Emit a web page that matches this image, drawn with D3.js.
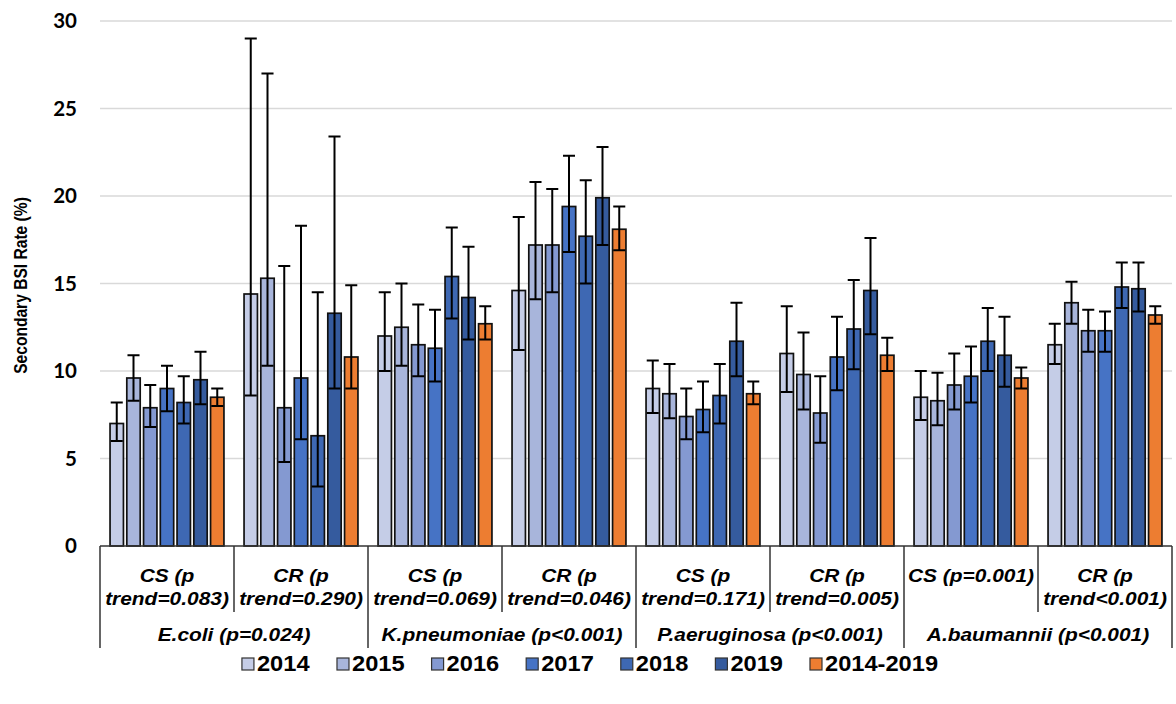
<!DOCTYPE html>
<html>
<head>
<meta charset="utf-8">
<script src="https://cdn.jsdelivr.net/npm/d3@7/dist/d3.min.js"></script>
<style>
  html, body { margin: 0; padding: 0; background: #fff; }
  svg { display: block; }
</style>
</head>
<body>
<svg id="chart" width="1176" height="704"></svg>
<script>
// Organisms and resistance subgroups along the category axis
const organisms = ["E.coli (p=0.024)", "K.pneumoniae (p<0.001)", "P.aeruginosa (p<0.001)", "A.baumannii (p<0.001)"];
const subgroupLines = [
  ["CS (p", "trend=0.083)"], ["CR (p", "trend=0.290)"],
  ["CS (p", "trend=0.069)"], ["CR (p", "trend=0.046)"],
  ["CS (p", "trend=0.171)"], ["CR (p", "trend=0.005)"],
  ["CS (p=0.001)"],          ["CR (p", "trend<0.001)"]
];
const subgroupIds = ["ec-cs", "ec-cr", "kp-cs", "kp-cr", "pa-cs", "pa-cr", "ab-cs", "ab-cr"];

// Series (years) and their colours
const years = ["2014", "2015", "2016", "2017", "2018", "2019", "2014-2019"];
const colors = ["#c5cde7", "#a8b5db", "#8499d1", "#4673c5", "#3e68b3", "#355b9e", "#ed7d31"];

// Secondary BSI rate (%) per subgroup, one array per series
const rate2014 = [7.0, 14.4, 12.0, 14.6, 9.0, 11.0, 8.5, 11.5];
const rate2015 = [9.6, 15.3, 12.5, 17.2, 8.7, 9.8, 8.3, 13.9];
const rate2016 = [7.9, 7.9, 11.5, 17.2, 7.4, 7.6, 9.2, 12.3];
const rate2017 = [9.0, 9.6, 11.3, 19.4, 7.8, 10.8, 9.7, 12.3];
const rate2018 = [8.2, 6.3, 15.4, 17.7, 8.6, 12.4, 11.7, 14.8];
const rate2019 = [9.5, 13.3, 14.2, 19.9, 11.7, 14.6, 10.9, 14.7];
const rateAll  = [8.5, 10.8, 12.7, 18.1, 8.7, 10.9, 9.6, 13.2];

// 95% CI lower bounds
const low2014 = [6.0, 8.6, 10.0, 11.2, 7.6, 8.8, 7.2, 10.4];
const low2015 = [8.3, 10.3, 10.3, 14.1, 7.3, 7.8, 6.9, 12.7];
const low2016 = [6.8, 4.8, 9.7, 14.5, 6.1, 5.9, 7.8, 11.1];
const low2017 = [7.7, 6.1, 9.4, 16.8, 6.5, 8.9, 8.2, 11.1];
const low2018 = [7.0, 3.4, 13.0, 15.0, 7.0, 10.1, 10.0, 13.6];
const low2019 = [8.1, 9.0, 11.8, 17.2, 9.7, 12.1, 9.1, 13.4];
const lowAll  = [8.0, 9.0, 11.8, 16.9, 8.1, 10.0, 9.0, 12.7];

// 95% CI upper bounds
const high2014 = [8.2, 29.0, 14.5, 18.8, 10.6, 13.7, 10.0, 12.7];
const high2015 = [10.9, 27.0, 15.0, 20.8, 10.4, 12.2, 9.9, 15.1];
const high2016 = [9.2, 16.0, 13.8, 20.4, 9.0, 9.7, 11.0, 13.5];
const high2017 = [10.3, 18.3, 13.5, 22.3, 9.4, 13.1, 11.4, 13.4];
const high2018 = [9.7, 14.5, 18.2, 20.9, 10.4, 15.2, 13.6, 16.2];
const high2019 = [11.1, 23.4, 17.1, 22.8, 13.9, 17.6, 13.1, 16.2];
const highAll  = [9.0, 14.9, 13.7, 19.4, 9.4, 11.9, 10.2, 13.7];

const yTicks = [0, 5, 10, 15, 20, 25, 30];

const rates = [rate2014, rate2015, rate2016, rate2017, rate2018, rate2019, rateAll];
const lows  = [low2014, low2015, low2016, low2017, low2018, low2019, lowAll];
const highs = [high2014, high2015, high2016, high2017, high2018, high2019, highAll];

const records = [];
subgroupIds.forEach((sg, i) => {
  years.forEach((yr, j) => {
    records.push({ sg, year: yr, si: j, value: rates[j][i], lo: lows[j][i], hi: highs[j][i] });
  });
});

const svg = d3.select("#chart");
const plotLeft = 100, plotRight = 1172, plotTop = 21, plotBottom = 546;
const labelFont = "'Liberation Sans', Arial, sans-serif";
const wide = 1.1; // horizontal stretch of label lettering

const x0 = d3.scaleBand().domain(subgroupIds).range([plotLeft, plotRight]).padding(0);
const x1 = d3.scaleBand().domain(years).range([0, x0.bandwidth()]).paddingInner(0.2).paddingOuter(0.6);
const y = d3.scaleLinear().domain([0, 30]).range([plotBottom, plotTop]);
const color = d3.scaleOrdinal().domain(years).range(colors);

// Gridlines
svg.append("g")
  .selectAll("line")
  .data(yTicks.filter(t => t > 0))
  .join("line")
  .attr("x1", plotLeft).attr("x2", plotRight)
  .attr("y1", d => y(d)).attr("y2", d => y(d))
  .attr("stroke", "#d9d9d9").attr("stroke-width", 1.5);

// Y axis tick labels
const yAxis = d3.axisLeft(y).tickValues(yTicks).tickSize(0).tickPadding(0);
const gy = svg.append("g").attr("transform", `translate(${plotLeft - 23},0)`).call(yAxis);
gy.select(".domain").remove();
gy.selectAll("text")
  .attr("font-family", "Lato, 'Open Sans', sans-serif")
  .attr("font-weight", "bold")
  .attr("font-size", 20.5)
  .attr("fill", "#000");

// Y axis title
svg.append("text")
  .attr("transform", `translate(20,${(plotTop + plotBottom) / 2 + 2}) rotate(-90) scale(1,1.2)`)
  .attr("text-anchor", "middle")
  .attr("dominant-baseline", "central")
  .attr("font-family", labelFont)
  .attr("font-weight", "bold")
  .attr("font-size", 15.6)
  .text("Secondary BSI Rate (%)");

// Bars
svg.append("g")
  .selectAll("rect")
  .data(records)
  .join("rect")
  .attr("x", d => x0(d.sg) + x1(d.year))
  .attr("y", d => y(d.value))
  .attr("width", x1.bandwidth())
  .attr("height", d => y(0) - y(d.value))
  .attr("fill", d => color(d.year))
  .attr("stroke", "#111")
  .attr("stroke-width", 1.7);

// Error bars
const capW = x1.bandwidth() * 0.9;
const gErr = svg.append("g").attr("stroke", "#000").attr("stroke-width", 2);
const eb = gErr.selectAll("g").data(records).join("g")
  .attr("transform", d => `translate(${x0(d.sg) + x1(d.year) + x1.bandwidth() / 2},0)`);
eb.append("line").attr("x1", 0).attr("x2", 0).attr("y1", d => y(d.lo)).attr("y2", d => y(d.hi));
eb.append("line").attr("x1", -capW / 2).attr("x2", capW / 2).attr("y1", d => y(d.hi)).attr("y2", d => y(d.hi));
eb.append("line").attr("x1", -capW / 2).attr("x2", capW / 2).attr("y1", d => y(d.lo)).attr("y2", d => y(d.lo));

// Category axis: baseline and separators
const gx = svg.append("g").attr("stroke", "#333").attr("stroke-width", 1.5);
gx.append("line").attr("x1", plotLeft).attr("x2", plotRight).attr("y1", plotBottom).attr("y2", plotBottom);
const boundaries = subgroupIds.map(s => x0(s)).concat([plotRight]);
gx.selectAll("line.sep")
  .data(boundaries)
  .join("line")
  .attr("class", "sep")
  .attr("x1", d => d).attr("x2", d => d)
  .attr("y1", plotBottom)
  .attr("y2", (d, i) => (i % 2 === 0 ? 648 : 612));

function label(g, x, yPos, txt, size) {
  return g.append("text")
    .attr("transform", `translate(${x},${yPos}) scale(${wide},1)`)
    .attr("text-anchor", "middle")
    .attr("dominant-baseline", "central")
    .attr("font-family", labelFont)
    .attr("font-weight", "bold")
    .attr("font-style", "italic")
    .attr("font-size", size)
    .text(txt);
}

// Subgroup labels
const gSub = svg.append("g");
subgroupIds.forEach((sg, i) => {
  const cx = x0(sg) + x0.bandwidth() / 2;
  subgroupLines[i].forEach((line, k) => label(gSub, cx, 575 + k * 23, line, 19));
});

// Organism labels
const gOrg = svg.append("g");
organisms.forEach((org, i) => {
  const cx = x0(subgroupIds[2 * i]) + x0.bandwidth();
  label(gOrg, cx, 634, org, 19);
});

// Legend
const legend = svg.append("g").attr("transform", "translate(0,664)");
const items = legend.selectAll("g").data(years).join("g");
items.append("rect")
  .attr("width", 12).attr("height", 12).attr("y", -6)
  .attr("fill", d => color(d)).attr("stroke", "#333").attr("stroke-width", 1.2);
items.append("text")
  .attr("transform", `translate(15,0) scale(${wide},1)`)
  .attr("dominant-baseline", "central")
  .attr("font-family", labelFont)
  .attr("font-weight", "bold")
  .attr("font-size", 21.5)
  .text(d => d);
const gap = 27;
const itemW = [];
items.each(function () { itemW.push(this.getBBox().width); });
const total = d3.sum(itemW) + gap * (itemW.length - 1);
let cursor = 590 - total / 2;
items.attr("transform", (d, i) => {
  const t = `translate(${cursor},0)`;
  cursor += itemW[i] + gap;
  return t;
});
</script>
</body>
</html>
